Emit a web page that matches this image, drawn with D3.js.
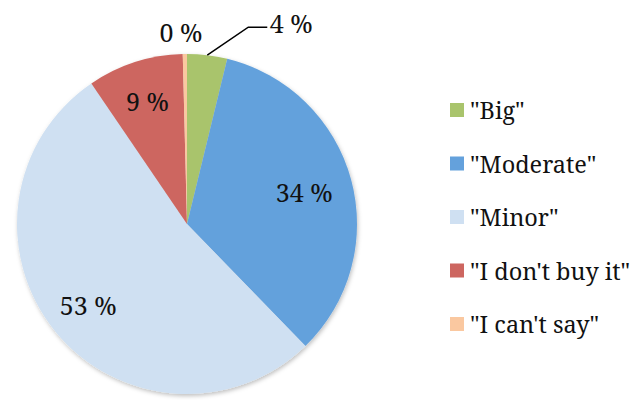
<!DOCTYPE html>
<html>
<head>
<meta charset="utf-8">
<script src="https://cdn.jsdelivr.net/npm/d3@7"></script>
<style>
  html, body { margin: 0; padding: 0; background: #fff; }
  svg { display: block; }
</style>
</head>
<body>
<svg id="chart" width="635" height="400"></svg>
<script>
// Survey answers and their shares (percent)
const categories = ['"Big"', '"Moderate"', '"Minor"', '"I don\'t buy it"', '"I can\'t say"'];
const shares = [3.8, 33.9, 52.7, 9.1, 0.4];
const colors = ["#a9c46c", "#64a1dc", "#cfe0f2", "#cd6660", "#fac8a0"];

const fontFamily = "Noto Serif";
const svg = d3.select("#chart");
const cx = 187, cy = 224, radius = 170;

const defs = svg.append("defs");
const shadow = defs.append("filter").attr("id", "soft-shadow")
  .attr("x", "-10%").attr("y", "-10%").attr("width", "120%").attr("height", "120%");
shadow.append("feDropShadow").attr("dx", 1).attr("dy", 2).attr("stdDeviation", 2)
  .attr("flood-color", "#000").attr("flood-opacity", 0.25);

const pie = d3.pie().value(d => d).sort(null);
const arcs = pie(shares);
const arc = d3.arc().innerRadius(0).outerRadius(radius);

const g = svg.append("g").attr("transform", `translate(${cx},${cy})`);
g.append("g").attr("filter", "url(#soft-shadow)")
  .selectAll("path").data(arcs).join("path")
  .attr("d", arc)
  .attr("fill", (d, i) => colors[i]);

// Percent labels: most sit inside the slice, the small ones outside
const fmt = v => `${Math.round(v)} %`;
const labelRadius = [null, 0.715, 0.75, 0.76, null];
const labelFont = 25;

arcs.forEach((d, i) => {
  const a = (d.startAngle + d.endAngle) / 2;
  let x, y;
  if (labelRadius[i] !== null) {
    x = Math.sin(a) * radius * labelRadius[i];
    y = -Math.cos(a) * radius * labelRadius[i];
  } else if (i === 4) {
    x = -6; y = -192;
  } else {
    // "Big" label with leader line
    const p0 = [Math.sin(a) * radius, -Math.cos(a) * radius];
    const p1 = [p0[0] + 41, p0[1] - 28];
    const p2 = [p1[0] + 19, p1[1]];
    g.append("polyline")
      .attr("points", [p0, p1, p2].map(p => p.join(",")).join(" "))
      .attr("fill", "none").attr("stroke", "#000").attr("stroke-width", 1.5);
    x = p2[0] + 24; y = p2[1] - 4;
  }
  g.append("text")
    .attr("x", x).attr("y", y)
    .attr("text-anchor", "middle").attr("dominant-baseline", "central")
    .attr("font-family", fontFamily)
    .attr("font-size", labelFont)
    .attr("fill", "#111")
    .text(fmt(shares[i]));
});

// Legend
const legend = svg.append("g").attr("transform", "translate(450,110)");
const rowGap = 53.5;
const rows = legend.selectAll("g").data(categories).join("g")
  .attr("transform", (d, i) => `translate(0,${i * rowGap})`);
rows.append("rect")
  .attr("x", 0).attr("y", -7).attr("width", 14).attr("height", 14)
  .attr("fill", (d, i) => colors[i]);
rows.append("text")
  .attr("x", 20).attr("y", 0)
  .attr("dominant-baseline", "central")
  .attr("font-family", fontFamily)
  .attr("font-size", 23.5)
  .attr("fill", "#111")
  .text(d => d);
</script>
</body>
</html>
